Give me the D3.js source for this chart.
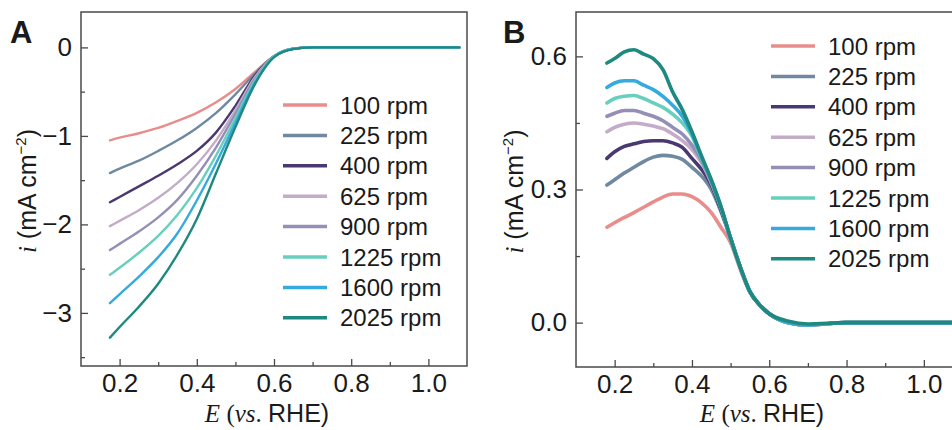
<!DOCTYPE html>
<html>
<head>
<meta charset="utf-8">
<script src="https://cdn.jsdelivr.net/npm/d3@7"></script>
<style>
  html, body { margin: 0; padding: 0; background: #fff; }
  svg { display: block; }
  text { font-family: "Liberation Sans", Arial, sans-serif; fill: #1a1a1a; }
</style>
</head>
<body>
<svg id="chart" width="952" height="430"></svg>
<script>
// ---------- DATA ----------
const seriesNames = ["100 rpm", "225 rpm", "400 rpm", "625 rpm", "900 rpm", "1225 rpm", "1600 rpm", "2025 rpm"];
const seriesColors = ["#e98d8c", "#6f89a1", "#4a3870", "#c4abc8", "#958fb6", "#68cfbd", "#35aade", "#1e8a7f"];

// Panel A: LSV current (mA cm^-2) vs E (V vs RHE)
const potentialA = [0.175, 0.2, 0.25, 0.3, 0.35, 0.4, 0.45, 0.5, 0.55, 0.6, 0.65, 0.7, 0.8, 0.9, 1.0, 1.08];
const rpm100A  = [-1.05, -1.02, -0.97, -0.91, -0.83, -0.74, -0.62, -0.47, -0.28, -0.10, -0.015, 0, 0, 0, 0, 0];
const rpm225A  = [-1.42, -1.37, -1.28, -1.17, -1.05, -0.91, -0.74, -0.53, -0.30, -0.10, -0.015, 0, 0, 0, 0, 0];
const rpm400A  = [-1.75, -1.69, -1.57, -1.45, -1.32, -1.17, -0.96, -0.66, -0.32, -0.10, -0.015, 0, 0, 0, 0, 0];
const rpm625A  = [-2.02, -1.96, -1.84, -1.70, -1.53, -1.32, -1.05, -0.71, -0.34, -0.10, -0.015, 0, 0, 0, 0, 0];
const rpm900A  = [-2.29, -2.22, -2.08, -1.92, -1.72, -1.45, -1.13, -0.75, -0.36, -0.10, -0.015, 0, 0, 0, 0, 0];
const rpm1225A = [-2.57, -2.49, -2.32, -2.13, -1.89, -1.59, -1.22, -0.80, -0.38, -0.10, -0.015, 0, 0, 0, 0, 0];
const rpm1600A = [-2.89, -2.79, -2.59, -2.37, -2.10, -1.73, -1.31, -0.85, -0.40, -0.11, -0.015, 0, 0, 0, 0, 0];
const rpm2025A = [-3.28, -3.16, -2.93, -2.67, -2.34, -1.94, -1.42, -0.90, -0.42, -0.11, -0.02, 0, 0, 0, 0, 0];

// Panel B: ring current (mA cm^-2) vs E (V vs RHE)
const potentialB = [0.18, 0.2, 0.225, 0.25, 0.275, 0.3, 0.325, 0.35, 0.375, 0.4, 0.425, 0.45, 0.475, 0.5, 0.525, 0.55, 0.575, 0.6, 0.65, 0.7, 0.8, 0.9, 1.0, 1.08];
const rpm100B  = [0.215, 0.225, 0.237, 0.248, 0.26, 0.272, 0.283, 0.29, 0.29, 0.284, 0.27, 0.248, 0.215, 0.18, 0.12, 0.068, 0.04, 0.02, 0.0, -0.005, 0, 0, 0, 0];
const rpm225B  = [0.31, 0.322, 0.337, 0.35, 0.363, 0.373, 0.377, 0.375, 0.368, 0.35, 0.33, 0.30, 0.25, 0.19, 0.125, 0.07, 0.04, 0.02, 0.0, -0.005, 0, 0, 0, 0];
const rpm400B  = [0.37, 0.385, 0.397, 0.403, 0.408, 0.41, 0.41, 0.405, 0.395, 0.37, 0.345, 0.31, 0.255, 0.19, 0.125, 0.07, 0.04, 0.02, 0.0, -0.005, 0, 0, 0, 0];
const rpm625B  = [0.43, 0.44, 0.447, 0.45, 0.447, 0.443, 0.437, 0.425, 0.41, 0.39, 0.36, 0.315, 0.26, 0.19, 0.125, 0.07, 0.04, 0.02, 0.0, -0.005, 0, 0, 0, 0];
const rpm900B  = [0.465, 0.472, 0.478, 0.478, 0.472, 0.465, 0.455, 0.44, 0.425, 0.40, 0.365, 0.318, 0.26, 0.19, 0.125, 0.07, 0.04, 0.02, 0.0, -0.005, 0, 0, 0, 0];
const rpm1225B = [0.495, 0.505, 0.51, 0.512, 0.505, 0.495, 0.485, 0.47, 0.45, 0.42, 0.37, 0.32, 0.26, 0.19, 0.125, 0.07, 0.04, 0.02, 0.0, -0.005, 0, 0, 0, 0];
const rpm1600B = [0.53, 0.54, 0.545, 0.545, 0.535, 0.525, 0.51, 0.49, 0.465, 0.425, 0.372, 0.32, 0.26, 0.19, 0.125, 0.07, 0.04, 0.02, 0.0, -0.005, 0, 0, 0, 0];
const rpm2025B = [0.585, 0.595, 0.61, 0.615, 0.605, 0.595, 0.57, 0.52, 0.48, 0.43, 0.375, 0.322, 0.262, 0.19, 0.125, 0.07, 0.04, 0.02, 0.003, -0.003, 0, 0, 0, 0];

const xTicks = [0.2, 0.4, 0.6, 0.8, 1.0];
const xMinorTicks = [0.3, 0.5, 0.7, 0.9];
const yTicksA = [0, -1, -2, -3];
const yMinorTicksA = [-0.5, -1.5, -2.5, -3.5];
const yTicksB = [0.0, 0.3, 0.6];
const yMinorTicksB = [0.15, 0.45];

const valuesA = [rpm100A, rpm225A, rpm400A, rpm625A, rpm900A, rpm1225A, rpm1600A, rpm2025A];
const valuesB = [rpm100B, rpm225B, rpm400B, rpm625B, rpm900B, rpm1225B, rpm1600B, rpm2025B];

// ---------- DRAW ----------
const svg = d3.select("#chart");
const frameColor = "#4a4a4a";
const serif = '"Liberation Serif", "Times New Roman", serif';

function panel(cfg) {
  const g = svg.append("g");
  const x = d3.scaleLinear().domain([0.1, 1.1]).range([cfg.left, cfg.right]);
  const y = d3.scaleLinear().domain(cfg.yDomain).range([cfg.bottom, cfg.top]);

  const clipId = "clip" + cfg.id;
  svg.append("clipPath").attr("id", clipId).append("rect")
    .attr("x", cfg.left).attr("y", cfg.top)
    .attr("width", cfg.right - cfg.left).attr("height", cfg.bottom - cfg.top);

  // lines
  const line = d3.line().x(d => x(d[0])).y(d => y(d[1])).curve(d3.curveMonotoneX);
  const lg = g.append("g").attr("clip-path", `url(#${clipId})`);
  cfg.values.forEach((vals, i) => {
    const pts = cfg.potential.map((e, k) => [e, vals[k]]);
    lg.append("path").attr("d", line(pts)).attr("fill", "none")
      .attr("stroke", seriesColors[i]).attr("stroke-width", cfg.lineWidth)
      .attr("stroke-linejoin", "round").attr("stroke-linecap", "round");
  });

  // axes (inward ticks)
  const xAxis = d3.axisBottom(x).tickValues(xTicks).tickFormat(d3.format(".1f"))
    .tickSizeInner(-7).tickSizeOuter(0).tickPadding(8);
  const gx = g.append("g").attr("transform", `translate(0,${cfg.bottom})`).call(xAxis);
  const xMinor = d3.axisBottom(x).tickValues(xMinorTicks).tickFormat("").tickSizeInner(-4).tickSizeOuter(0);
  const gxm = g.append("g").attr("transform", `translate(0,${cfg.bottom})`).call(xMinor);

  const yAxis = d3.axisLeft(y).tickValues(cfg.yTicks).tickFormat(cfg.yFormat)
    .tickSizeInner(-7).tickSizeOuter(0).tickPadding(9);
  const gy = g.append("g").attr("transform", `translate(${cfg.left},0)`).call(yAxis);
  const yMinor = d3.axisLeft(y).tickValues(cfg.yMinor).tickFormat("").tickSizeInner(-4).tickSizeOuter(0);
  const gym = g.append("g").attr("transform", `translate(${cfg.left},0)`).call(yMinor);

  [gx, gxm, gy, gym].forEach(a => {
    a.select(".domain").remove();
    a.selectAll(".tick line").attr("stroke", frameColor).attr("stroke-width", 1.3);
    a.selectAll("text").attr("font-size", 26).attr("fill", "#1a1a1a")
      .attr("font-family", '"Liberation Sans", Arial, sans-serif');
  });

  // frame
  g.append("rect").attr("x", cfg.left).attr("y", cfg.top)
    .attr("width", cfg.right - cfg.left).attr("height", cfg.bottom - cfg.top)
    .attr("fill", "none").attr("stroke", frameColor).attr("stroke-width", 1.5);

  // x title
  const xt = g.append("text").attr("x", cfg.xTitleX).attr("y", 422)
    .attr("text-anchor", "middle").attr("font-size", 25);
  xt.append("tspan").attr("font-family", serif).attr("font-style", "italic").text("E");
  xt.append("tspan").attr("font-family", serif).text(" (");
  xt.append("tspan").attr("font-family", serif).attr("font-style", "italic").text("vs");
  xt.append("tspan").attr("font-family", serif).text(". ");
  xt.append("tspan").text("RHE)");

  // y title
  const yt = g.append("text")
    .attr("transform", `translate(${cfg.yTitleX},${(cfg.top + cfg.bottom) / 2 + 2}) rotate(-90)`)
    .attr("text-anchor", "middle").attr("font-size", 25);
  yt.append("tspan").attr("font-family", serif).attr("font-style", "italic").text("i");
  yt.append("tspan").text(" (mA cm");
  yt.append("tspan").attr("font-size", 15).attr("dy", -10).text("\u22122");
  yt.append("tspan").attr("dy", 10).text(")");

  // panel letter
  g.append("text").attr("x", cfg.letterX).attr("y", 43).attr("font-size", 31)
    .attr("font-weight", "bold").attr("fill", "#000").text(cfg.letter);

  // legend
  const leg = g.append("g");
  seriesNames.forEach((name, i) => {
    const yy = cfg.legTop + i * 30.4;
    leg.append("line").attr("x1", cfg.legX).attr("x2", cfg.legX + 44)
      .attr("y1", yy).attr("y2", yy).attr("stroke", seriesColors[i]).attr("stroke-width", 3.5);
    leg.append("text").attr("x", cfg.legX + 57).attr("y", yy + 8.5)
      .attr("font-size", 24).text(name);
  });
}

panel({
  id: "A", left: 81, right: 467, top: 12, bottom: 366,
  yDomain: [-3.6, 0.4], yTicks: yTicksA, yMinor: yMinorTicksA,
  yFormat: d => d === 0 ? "0" : "\u2212" + Math.abs(d),
  potential: potentialA, values: valuesA, lineWidth: 2.4,
  xTitleX: 267, yTitleX: 36, letter: "A", letterX: 10,
  legX: 283, legTop: 105
});

panel({
  id: "B", left: 576, right: 962.5, top: 12, bottom: 367,
  yDomain: [-0.1, 0.7], yTicks: yTicksB, yMinor: yMinorTicksB,
  yFormat: d3.format(".1f"),
  potential: potentialB, values: valuesB, lineWidth: 3.6,
  xTitleX: 762, yTitleX: 523, letter: "B", letterX: 503,
  legX: 771, legTop: 46
});
</script>
</body>
</html>
